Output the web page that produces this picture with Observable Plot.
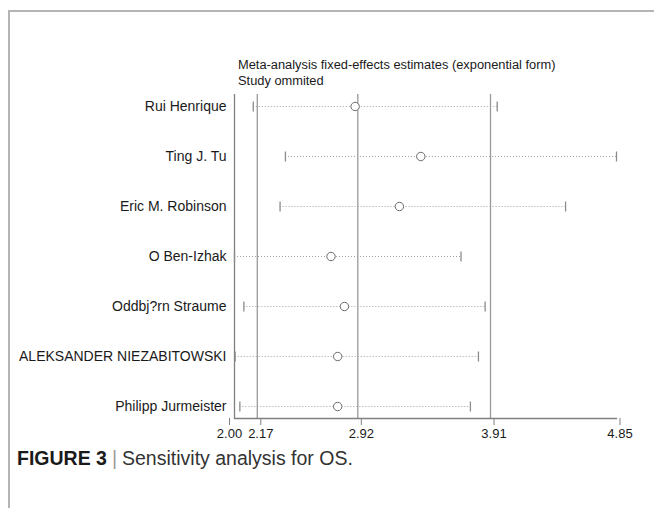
<!DOCTYPE html>
<html>
<head>
<meta charset="utf-8">
<script src="https://cdn.jsdelivr.net/npm/d3@7"></script>
<script src="https://cdn.jsdelivr.net/npm/@observablehq/plot@0.6"></script>
<style>
  html, body { margin: 0; padding: 0; background: #fff; }
  #root { position: relative; width: 654px; height: 508px; overflow: hidden; font-family: "Liberation Sans", Arial, Helvetica, sans-serif; }
  #box { position: absolute; left: 8px; top: 10px; width: 700px; height: 600px; border-top: 2px solid #b4b4b4; border-left: 2px solid #b4b4b4; }
  #chart { position: absolute; left: 0; top: 0; }
  #title { position: absolute; left: 238px; top: 57px; font-size: 12.85px; line-height: 16px; color: #1a1a1a; white-space: nowrap; }
  #caption { position: absolute; left: 17px; top: 447px; font-size: 19.5px; line-height: 22px; color: #333; white-space: nowrap; }
  #caption b { color: #1a1a1a; }
  #caption .bar { color: #999; margin: 0 5px; }
</style>
</head>
<body>
<div id="root">
  <div id="box"></div>
  <div id="chart"></div>
  <div id="title">Meta-analysis fixed-effects estimates (exponential form)<br>Study ommited</div>
  <div id="caption"><b>FIGURE 3</b><span class="bar">|</span>Sensitivity analysis for OS.</div>
</div>
<script>
const studies = ["Rui Henrique", "Ting J. Tu", "Eric M. Robinson", "O Ben-Izhak", "Oddbj?rn Straume", "ALEKSANDER NIEZABITOWSKI", "Philipp Jurmeister"];
const lower = [2.14, 2.38, 2.34, 2.00, 2.07, 2.005, 2.04];
const estimate = [2.90, 3.39, 3.23, 2.72, 2.82, 2.77, 2.77];
const upper = [3.96, 4.85, 4.47, 3.69, 3.87, 3.82, 3.76];
const refLines = [2.17, 2.92, 3.91];
const axisMin = [2.00];
const tickValues = [2.17, 2.92, 3.91, 4.85];

const rows = studies.map((s, i) => ({study: s, lo: lower[i], est: estimate[i], hi: upper[i]}));

// vertical bar symbol for CI end caps
const vbar = {draw(ctx, size) { const h = Math.sqrt(size / Math.PI); ctx.moveTo(0, -h); ctx.lineTo(0, h); }};

const chart = Plot.plot({
  width: 654,
  height: 448,
  marginTop: 94,
  marginBottom: 30,
  marginLeft: 234,
  marginRight: 38,
  style: {fontFamily: "'Liberation Sans', Arial, Helvetica, sans-serif", color: "#1a1a1a", background: "transparent"},
  x: {domain: [axisMin[0], tickValues[tickValues.length - 1]]},
  y: {type: "point", domain: studies, padding: 0.22},
  marks: [
    Plot.ruleX(refLines, {stroke: "#9a9a9a", strokeWidth: 1.3}),
    Plot.ruleX(axisMin, {stroke: "#808080", strokeWidth: 1.3}),
    Plot.frame({anchor: "bottom", stroke: "#808080", strokeWidth: 1.3}),
    Plot.ruleY(rows, {y: "study", x1: "lo", x2: "hi", stroke: "#a0a0a0", strokeWidth: 1, strokeDasharray: "1,2"}),
    Plot.dot(rows, {x: "lo", y: "study", symbol: vbar, r: 5, stroke: "#8c8c8c", strokeWidth: 1.3}),
    Plot.dot(rows, {x: "hi", y: "study", symbol: vbar, r: 5, stroke: "#8c8c8c", strokeWidth: 1.3}),
    Plot.dot(rows, {x: "est", y: "study", r: 4.2, stroke: "#6a6a6a", strokeWidth: 1, fill: "white"}),
    Plot.axisX(axisMin, {tickSize: 7, tickPadding: 3, tickFormat: d3.format(".2f"), fontSize: 13, stroke: "#808080", dx: -5, label: null}),
    Plot.axisX(tickValues, {tickSize: 7, tickPadding: 3, tickFormat: d3.format(".2f"), fontSize: 13, stroke: "#808080", dx: 3.5, label: null}),
    Plot.axisY({tickSize: 0, tickPadding: 8, fontSize: 14, label: null})
  ]
});
document.getElementById("chart").appendChild(chart);
</script>
</body>
</html>
